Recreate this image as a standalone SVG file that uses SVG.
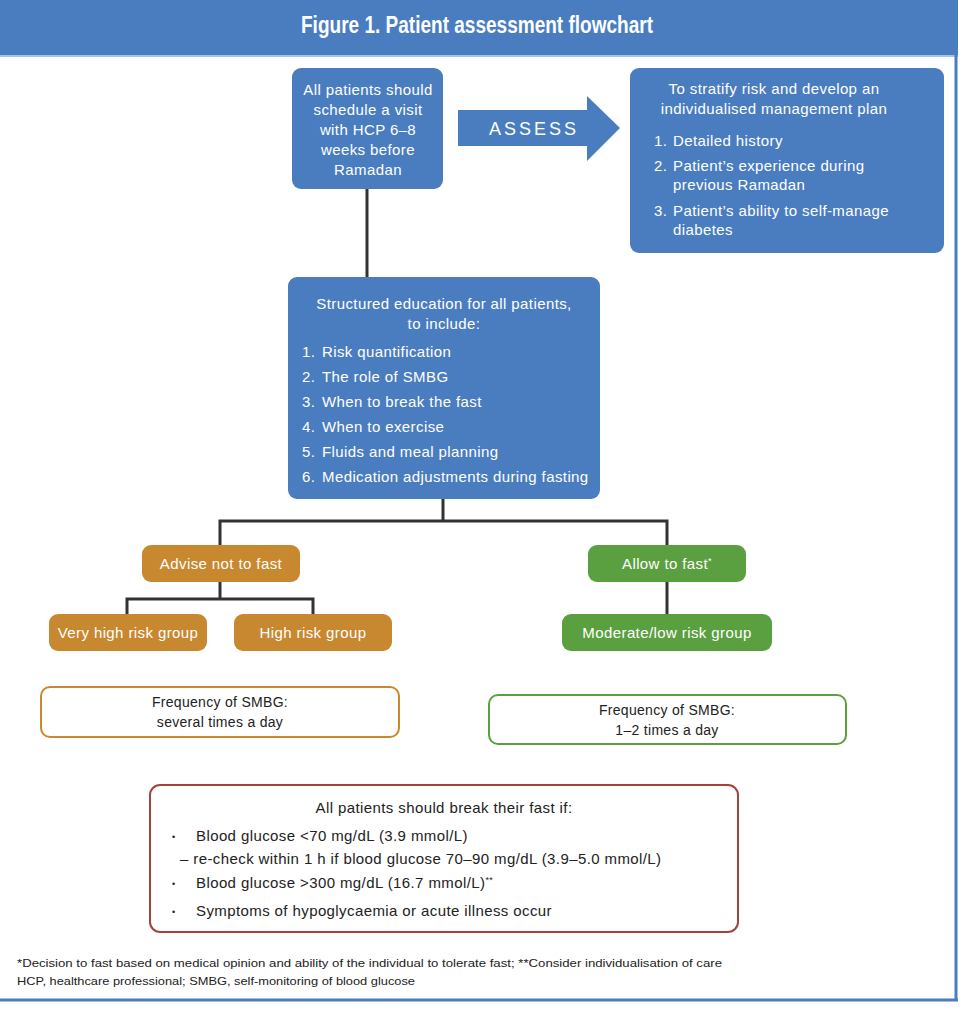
<svg xmlns="http://www.w3.org/2000/svg" width="960" height="1010" viewBox="0 0 960 1010">
<defs>
<style>
.t{font-family:"Liberation Sans",Arial,sans-serif;font-size:15px;letter-spacing:0.4px}
.f{font-size:14px;letter-spacing:0.3px}
.w{fill:#ffffff}
.d{fill:#222222}
.c{text-anchor:middle}
.blue{fill:#4a7dbf}
.or{fill:#c8882f}
.gr{fill:#5aa040}
.conn{stroke:#333333;stroke-width:3;fill:none}
.b{font-size:9px}
.fn{font-family:"Liberation Sans",Arial,sans-serif;font-size:11.5px;fill:#222222}
</style>
</defs>
<rect x="0" y="0" width="960" height="1010" fill="#ffffff"/>
<g id="frame">
<rect x="0" y="0" width="958" height="55" fill="#4a7dbf"/>
<rect x="0" y="55" width="958" height="2" fill="#a9c3e6"/>
<line x1="956" y1="55" x2="956" y2="1001" stroke="#4a7dbf" stroke-width="3"/>
<line x1="0" y1="1000" x2="958" y2="1000" stroke="#4a7dbf" stroke-width="3"/>
<text x="477" y="33" class="c" font-family="Liberation Sans,Arial,sans-serif" font-weight="bold" font-size="23" fill="#ffffff" textLength="352" lengthAdjust="spacingAndGlyphs">Figure 1. Patient assessment flowchart</text>
</g>
<g id="connectors">
<line class="conn" x1="367" y1="189" x2="367" y2="278"/>
<polyline class="conn" points="443,499 443,521"/>
<polyline class="conn" points="220,546 220,521 667,521 667,546"/>
<polyline class="conn" points="220,582 220,599"/>
<polyline class="conn" points="127,615 127,599 313,599 313,615"/>
<line class="conn" x1="667" y1="582" x2="667" y2="615"/>
</g>
<g id="visit">
<rect x="292" y="68" width="151" height="121" rx="9" class="blue"/>
<text class="t w c" x="368" y="95">All patients should</text>
<text class="t w c" x="368" y="115">schedule a visit</text>
<text class="t w c" x="368" y="135">with HCP 6–8</text>
<text class="t w c" x="368" y="155">weeks before</text>
<text class="t w c" x="368" y="175">Ramadan</text>
</g>
<g id="assess">
<polygon points="458,110 587,110 587,96 620,128 587,161 587,146 458,146" class="blue"/>
<text class="t w c" x="534" y="135" style="font-size:18px;letter-spacing:3px">ASSESS</text>
</g>
<g id="stratify">
<rect x="630" y="68" width="314" height="185" rx="9" class="blue"/>
<text class="t w c" x="774" y="94">To stratify risk and develop an</text>
<text class="t w c" x="774" y="114">individualised management plan</text>
<text class="t w" x="654" y="146">1.</text>
<text class="t w" x="673" y="146">Detailed history</text>
<text class="t w" x="654" y="171">2.</text>
<text class="t w" x="673" y="171">Patient’s experience during</text>
<text class="t w" x="673" y="190">previous Ramadan</text>
<text class="t w" x="654" y="216">3.</text>
<text class="t w" x="673" y="216">Patient’s ability to self-manage</text>
<text class="t w" x="673" y="235">diabetes</text>
</g>
<g id="education">
<rect x="288" y="277" width="312" height="222" rx="9" class="blue"/>
<text class="t w c" x="444" y="309">Structured education for all patients,</text>
<text class="t w c" x="444" y="329">to include:</text>
<text class="t w" x="302" y="357">1.</text>
<text class="t w" x="322" y="357">Risk quantification</text>
<text class="t w" x="302" y="382">2.</text>
<text class="t w" x="322" y="382">The role of SMBG</text>
<text class="t w" x="302" y="407">3.</text>
<text class="t w" x="322" y="407">When to break the fast</text>
<text class="t w" x="302" y="432">4.</text>
<text class="t w" x="322" y="432">When to exercise</text>
<text class="t w" x="302" y="457">5.</text>
<text class="t w" x="322" y="457">Fluids and meal planning</text>
<text class="t w" x="302" y="482">6.</text>
<text class="t w" x="322" y="482">Medication adjustments during fasting</text>
</g>
<g id="advise">
<rect x="142" y="545" width="158" height="37" rx="9" class="or"/>
<text class="t w c" x="221" y="569">Advise not to fast</text>
</g>
<g id="veryhigh">
<rect x="49" y="614" width="158" height="37" rx="9" class="or"/>
<text class="t w c" x="128" y="638">Very high risk group</text>
</g>
<g id="high">
<rect x="234" y="614" width="158" height="37" rx="9" class="or"/>
<text class="t w c" x="313" y="638">High risk group</text>
</g>
<g id="allow">
<rect x="588" y="545" width="158" height="37" rx="9" class="gr"/>
<text class="t w c" x="667" y="569">Allow to fast<tspan class="b" dy="-5">*</tspan></text>
</g>
<g id="moderate">
<rect x="562" y="614" width="210" height="37" rx="9" class="gr"/>
<text class="t w c" x="667" y="638">Moderate/low risk group</text>
</g>
<g id="freqhigh">
<rect x="41" y="687" width="358" height="50" rx="9" fill="#ffffff" stroke="#c8882f" stroke-width="2"/>
<text class="t f d c" x="220" y="707">Frequency of SMBG:</text>
<text class="t f d c" x="220" y="727">several times a day</text>
</g>
<g id="freqlow">
<rect x="489" y="695" width="357" height="49" rx="9" fill="#ffffff" stroke="#5aa040" stroke-width="2"/>
<text class="t f d c" x="667" y="715">Frequency of SMBG:</text>
<text class="t f d c" x="667" y="735">1–2 times a day</text>
</g>
<g id="breakfast">
<rect x="150" y="785" width="588" height="147" rx="10" fill="#ffffff" stroke="#a3443c" stroke-width="2"/>
<text class="t d c" x="444" y="813">All patients should break their fast if:</text>
<text class="t d b" x="172" y="840">•</text>
<text class="t d" x="196" y="841">Blood glucose &lt;70 mg/dL (3.9 mmol/L)</text>
<text class="t d" x="180" y="864">– re-check within 1 h if blood glucose 70–90 mg/dL (3.9–5.0 mmol/L)</text>
<text class="t d b" x="172" y="887">•</text>
<text class="t d" x="196" y="888">Blood glucose &gt;300 mg/dL (16.7 mmol/L)<tspan class="b" dy="-5">**</tspan></text>
<text class="t d b" x="172" y="915">•</text>
<text class="t d" x="196" y="916">Symptoms of hypoglycaemia or acute illness occur</text>
</g>
<g id="footnote">
<text class="fn" x="17" y="967" textLength="705" lengthAdjust="spacingAndGlyphs">*Decision to fast based on medical opinion and ability of the individual to tolerate fast; **Consider individualisation of care</text>
<text class="fn" x="17" y="985" textLength="398" lengthAdjust="spacingAndGlyphs">HCP, healthcare professional; SMBG, self-monitoring of blood glucose</text>
</g>
</svg>
